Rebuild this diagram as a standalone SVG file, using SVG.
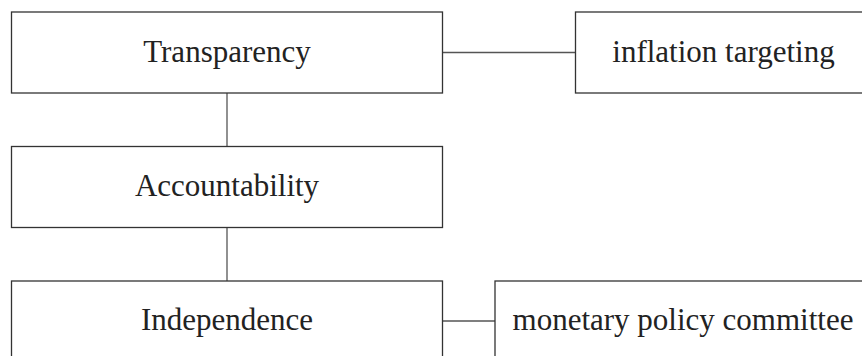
<svg xmlns="http://www.w3.org/2000/svg" width="862" height="356" viewBox="0 0 862 356">
<style>
.box{fill:#fff;stroke:#333;stroke-width:1.3}
.lbl{font-family:"Liberation Serif","DejaVu Serif",serif;font-size:31px;fill:#222;text-anchor:middle}
.edge{stroke:#555;stroke-width:1.3;fill:none}
</style>
<rect width="862" height="356" fill="#fff"/>
<g id="connectors">
<line class="edge" x1="442.5" y1="52.5" x2="575.5" y2="52.5"/>
<line class="edge" x1="227" y1="93" x2="227" y2="146"/>
<line class="edge" x1="227" y1="228" x2="227" y2="281"/>
<line class="edge" x1="442.5" y1="321" x2="495" y2="321"/>
</g>
<g id="transparency">
<rect class="box" x="11.5" y="12" width="431" height="81"/>
<text class="lbl" x="227" y="61.5">Transparency</text>
</g>
<g id="inflation-targeting">
<rect class="box" x="575.5" y="12" width="296" height="81"/>
<text class="lbl" x="723.5" y="61.5">inflation targeting</text>
</g>
<g id="accountability">
<rect class="box" x="11.5" y="146.5" width="431" height="81"/>
<text class="lbl" x="227" y="195.5">Accountability</text>
</g>
<g id="independence">
<rect class="box" x="11.5" y="281" width="431" height="81"/>
<text class="lbl" x="227" y="330">Independence</text>
</g>
<g id="monetary-policy-committee">
<rect class="box" x="495" y="281" width="376" height="81"/>
<text class="lbl" x="683" y="330">monetary policy committee</text>
</g>
</svg>
